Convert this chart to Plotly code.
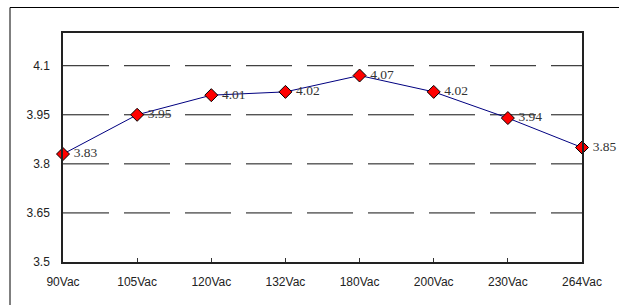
import plotly.graph_objects as go

categories = ["90Vac", "105Vac", "120Vac", "132Vac", "180Vac", "200Vac", "230Vac", "264Vac"]
values = [3.83, 3.95, 4.01, 4.02, 4.07, 4.02, 3.94, 3.85]
value_labels = ["3.83", "3.95", "4.01", "4.02", "4.07", "4.02", "3.94", "3.85"]
y_ticks = [3.5, 3.65, 3.8, 3.95, 4.1]

W, H = 619, 305
L, R, T, B = 63, 37, 33, 43
pw, ph = W - L - R, H - T - B

fig = go.Figure()

# dashed gridlines
for yv in y_ticks[1:]:
    fig.add_shape(type="line", xref="paper", yref="y", x0=0, x1=1, y0=yv, y1=yv,
                  line=dict(color="#111111", width=1, dash="46px,15px"), layer="below")

fig.add_trace(go.Scatter(
    x=list(range(len(categories))), y=values,
    mode="lines+markers+text",
    text=["\u00a0" + s for s in value_labels], textposition="middle right",
    textfont=dict(family="Liberation Serif, Times New Roman, serif", size=13.5, color="#333333"),
    line=dict(color="#000080", width=1),
    marker=dict(symbol="diamond", size=10, color="#ff0000", line=dict(color="#000000", width=1)),
    cliponaxis=False, showlegend=False,
))

# outer frame (top and left edges; continues past right and bottom of the image)
fx0 = (10 - L) / pw
fy1 = 1 + (T - 7.5) / ph
fig.add_shape(type="line", xref="paper", yref="paper", x0=fx0, x1=1.2, y0=fy1, y1=fy1,
              line=dict(color="#000000", width=1))
fig.add_shape(type="line", xref="paper", yref="paper", x0=fx0, x1=fx0, y0=fy1, y1=-0.3,
              line=dict(color="#000000", width=1))

fig.update_layout(
    width=W, height=H,
    margin=dict(l=L, r=R, t=T, b=B, autoexpand=False),
    paper_bgcolor="white", plot_bgcolor="white",
    xaxis=dict(
        range=[0, len(categories) - 1],
        tickmode="array", tickvals=list(range(len(categories))), ticktext=categories,
        ticks="inside", ticklen=4, tickcolor="#333333",
        showgrid=False, zeroline=False,
        showline=True, linecolor="#222222", linewidth=1.5, mirror=True,
        tickfont=dict(family="Arial, Liberation Sans, sans-serif", size=12, color="#222222"),
        ticklabelstandoff=8,
    ),
    yaxis=dict(
        range=[3.5, 4.2],
        tickmode="array", tickvals=y_ticks, ticktext=[str(v) for v in y_ticks],
        ticks="", showgrid=False, zeroline=False,
        showline=True, linecolor="#222222", linewidth=1.5, mirror=True,
        tickfont=dict(family="Arial, Liberation Sans, sans-serif", size=12, color="#222222"),
        ticklabelstandoff=9,
    ),
)

fig.write_html("out.html", config={"displayModeBar": False},
               post_script="document.body.style.margin='0';document.body.style.overflow='hidden';")
